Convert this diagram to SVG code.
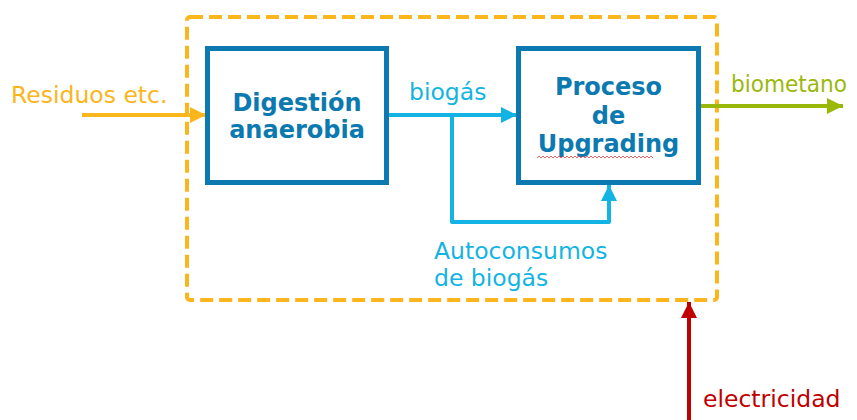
<svg xmlns="http://www.w3.org/2000/svg" width="857" height="420" viewBox="0 0 857 420">
<style>
.box{fill:#fff;stroke:#0C7AB0;stroke-width:5}
.bt{font-family:"DejaVu Sans",Verdana,sans-serif;font-weight:bold;font-size:24px;fill:#0C7AB0;text-anchor:middle}
.lbl{font-family:"DejaVu Sans",Verdana,sans-serif;font-size:23.5px}
.cy{stroke:#13B4E3;stroke-width:4;fill:none}
</style>
<defs>
<marker id="aO" markerWidth="4" markerHeight="4" refX="4" refY="2" orient="auto" markerUnits="strokeWidth"><path d="M0,0L4,2L0,4z" fill="#FBB51D"/></marker>
<marker id="aC" markerWidth="4" markerHeight="4" refX="4" refY="2" orient="auto" markerUnits="strokeWidth"><path d="M0,0L4,2L0,4z" fill="#13B4E3"/></marker>
<marker id="aG" markerWidth="4" markerHeight="4" refX="4" refY="2" orient="auto" markerUnits="strokeWidth"><path d="M0,0L4,2L0,4z" fill="#9AB80A"/></marker>
<marker id="aR" markerWidth="4" markerHeight="4" refX="4" refY="2" orient="auto" markerUnits="strokeWidth"><path d="M0,0L4,2L0,4z" fill="#C00000"/></marker>
</defs>
<g id="boundary">
<rect x="187" y="17" width="530" height="283" rx="3" fill="none" stroke="#FBB51D" stroke-width="4" stroke-dasharray="13 6"/>
</g>
<g id="connectors">
<line x1="82" y1="115" x2="206" y2="115" stroke="#FBB51D" stroke-width="4" marker-end="url(#aO)"/>
<line x1="388" y1="115" x2="517" y2="115" class="cy" marker-end="url(#aC)"/>
<path d="M452,115V222H609V185" class="cy" stroke-linejoin="round" marker-end="url(#aC)"/>
<line x1="700" y1="106" x2="843" y2="106" stroke="#9AB80A" stroke-width="4" marker-end="url(#aG)"/>
<line x1="689" y1="420" x2="689" y2="302" stroke="#C00000" stroke-width="4" marker-end="url(#aR)"/>
</g>
<g id="digestion">
<rect class="box" x="207.5" y="48.5" width="179" height="134"/>
<text class="bt" x="297" y="111">Digestión</text>
<text class="bt" x="297" y="138">anaerobia</text>
</g>
<g id="upgrading">
<rect class="box" x="518.5" y="48.5" width="180" height="134"/>
<text class="bt" x="608.5" y="95">Proceso</text>
<text class="bt" x="608.5" y="124">de</text>
<text class="bt" x="608.5" y="152">Upgrading</text>
<path d="M537,158l2,-2l2,2l2,-2l2,2l2,-2l2,2l2,-2l2,2l2,-2l2,2l2,-2l2,2l2,-2l2,2l2,-2l2,2l2,-2l2,2l2,-2l2,2l2,-2l2,2l2,-2l2,2l2,-2l2,2l2,-2l2,2l2,-2l2,2l2,-2l2,2l2,-2l2,2l2,-2l2,2l2,-2l2,2l2,-2l2,2l2,-2l2,2l2,-2l2,2l2,-2l2,2l2,-2l2,2l2,-2l2,2l2,-2l2,2l2,-2l2,2l2,-2l2,2l2,-2l2,2" fill="none" stroke="#E04040" stroke-width="0.8"/>
</g>
<g id="labels">
<text class="lbl" x="11" y="103" fill="#FBB51D">Residuos etc.</text>
<text class="lbl" x="409" y="100" fill="#13B4E3">biogás</text>
<text class="lbl" x="731" y="92" fill="#9AB80A" textLength="116" lengthAdjust="spacingAndGlyphs">biometano</text>
<text class="lbl" x="434" y="259" fill="#13B4E3">Autoconsumos</text>
<text class="lbl" x="434" y="286" fill="#13B4E3">de biogás</text>
<text class="lbl" x="703" y="407" fill="#C00000">electricidad</text>
</g>
</svg>
